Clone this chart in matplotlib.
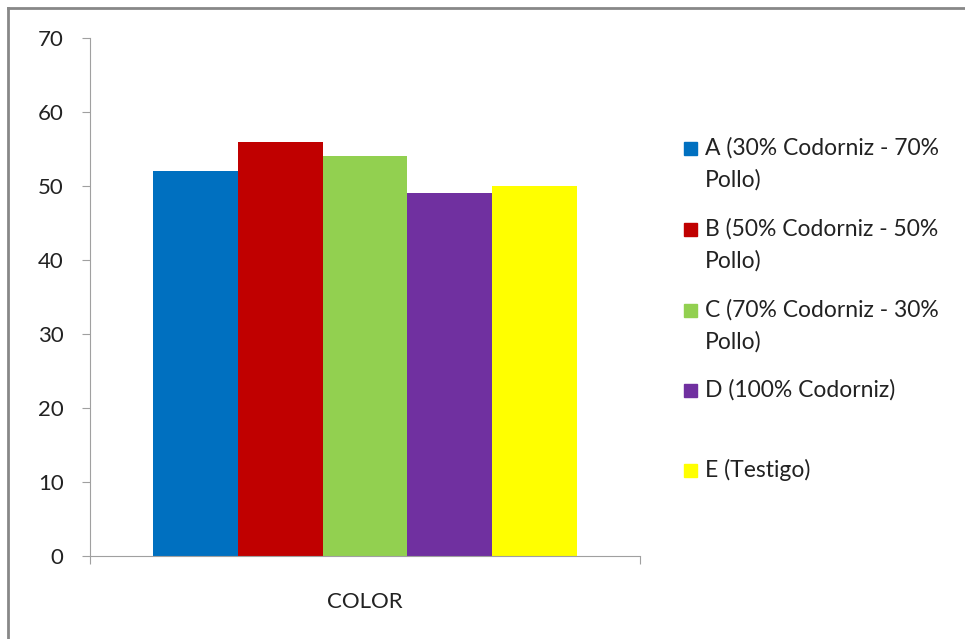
import matplotlib.pyplot as plt
from matplotlib.patches import Rectangle
from matplotlib.lines import Line2D

plt.rcParams['font.family'] = ['Lato', 'DejaVu Sans']

labels = ["A (30% Codorniz - 70%\nPollo)",
          "B (50% Codorniz - 50%\nPollo)",
          "C (70% Codorniz - 30%\nPollo)",
          "D (100% Codorniz)",
          "E (Testigo)"]
values = [52, 56, 54, 49, 50]
colors = ["#0070C0", "#C00000", "#92D050", "#7030A0", "#FFFF00"]
category = "COLOR"
yticks = [0, 10, 20, 30, 40, 50, 60, 70]

W, H = 965, 639
fig = plt.figure(figsize=(W / 100, H / 100), dpi=100)
ax = fig.add_axes([90 / W, 1 - 556 / H, 550 / W, 518 / H])

# excel style clustered bars, gap width 150%
w = 1 / 6.5
for i, (v, c) in enumerate(zip(values, colors)):
    ax.bar(0.75 * w + w * (i + 0.5), v, width=w, color=c, edgecolor="none")

ax.set_xlim(0, 1)
ax.set_ylim(0, 70)
ax.set_yticks(yticks)
ax.tick_params(axis="y", length=6, width=0.8, color="#A0A0A0", pad=13,
               labelsize=16, labelcolor="#222222")
ax.set_xticks([0.5])
ax.set_xticklabels([category])
ax.tick_params(axis="x", which="major", length=0, pad=26, labelsize=16,
               labelcolor="#222222")
ax.set_xticks([0, 1], minor=True)
ax.tick_params(axis="x", which="minor", length=6, width=0.8, color="#A0A0A0")
for s in ["top", "right"]:
    ax.spines[s].set_visible(False)
for s in ["left", "bottom"]:
    ax.spines[s].set_color("#A0A0A0")
    ax.spines[s].set_linewidth(0.8)

# legend drawn by hand to keep Excel's equal entry spacing
ys = [148, 229, 310, 390, 470]
for lab, c, y in zip(labels, colors, ys):
    fig.patches.append(Rectangle((684 / W, 1 - (y + 7) / H), 13 / W, 13 / H,
                                 transform=fig.transFigure, color=c))
    fig.text(705 / W, 1 - (y - 11) / H, lab, fontsize=16.5, va="top",
             ha="left", color="#222222", linespacing=1.6)

# chart frame (only top and left visible)
fig.add_artist(Line2D([8 / W, 1], [1 - 8 / H, 1 - 8 / H], color="#888888",
                      lw=2, transform=fig.transFigure))
fig.add_artist(Line2D([8 / W, 8 / W], [0, 1 - 8 / H], color="#888888",
                      lw=2, transform=fig.transFigure))

fig.savefig("out.png", dpi=100)
